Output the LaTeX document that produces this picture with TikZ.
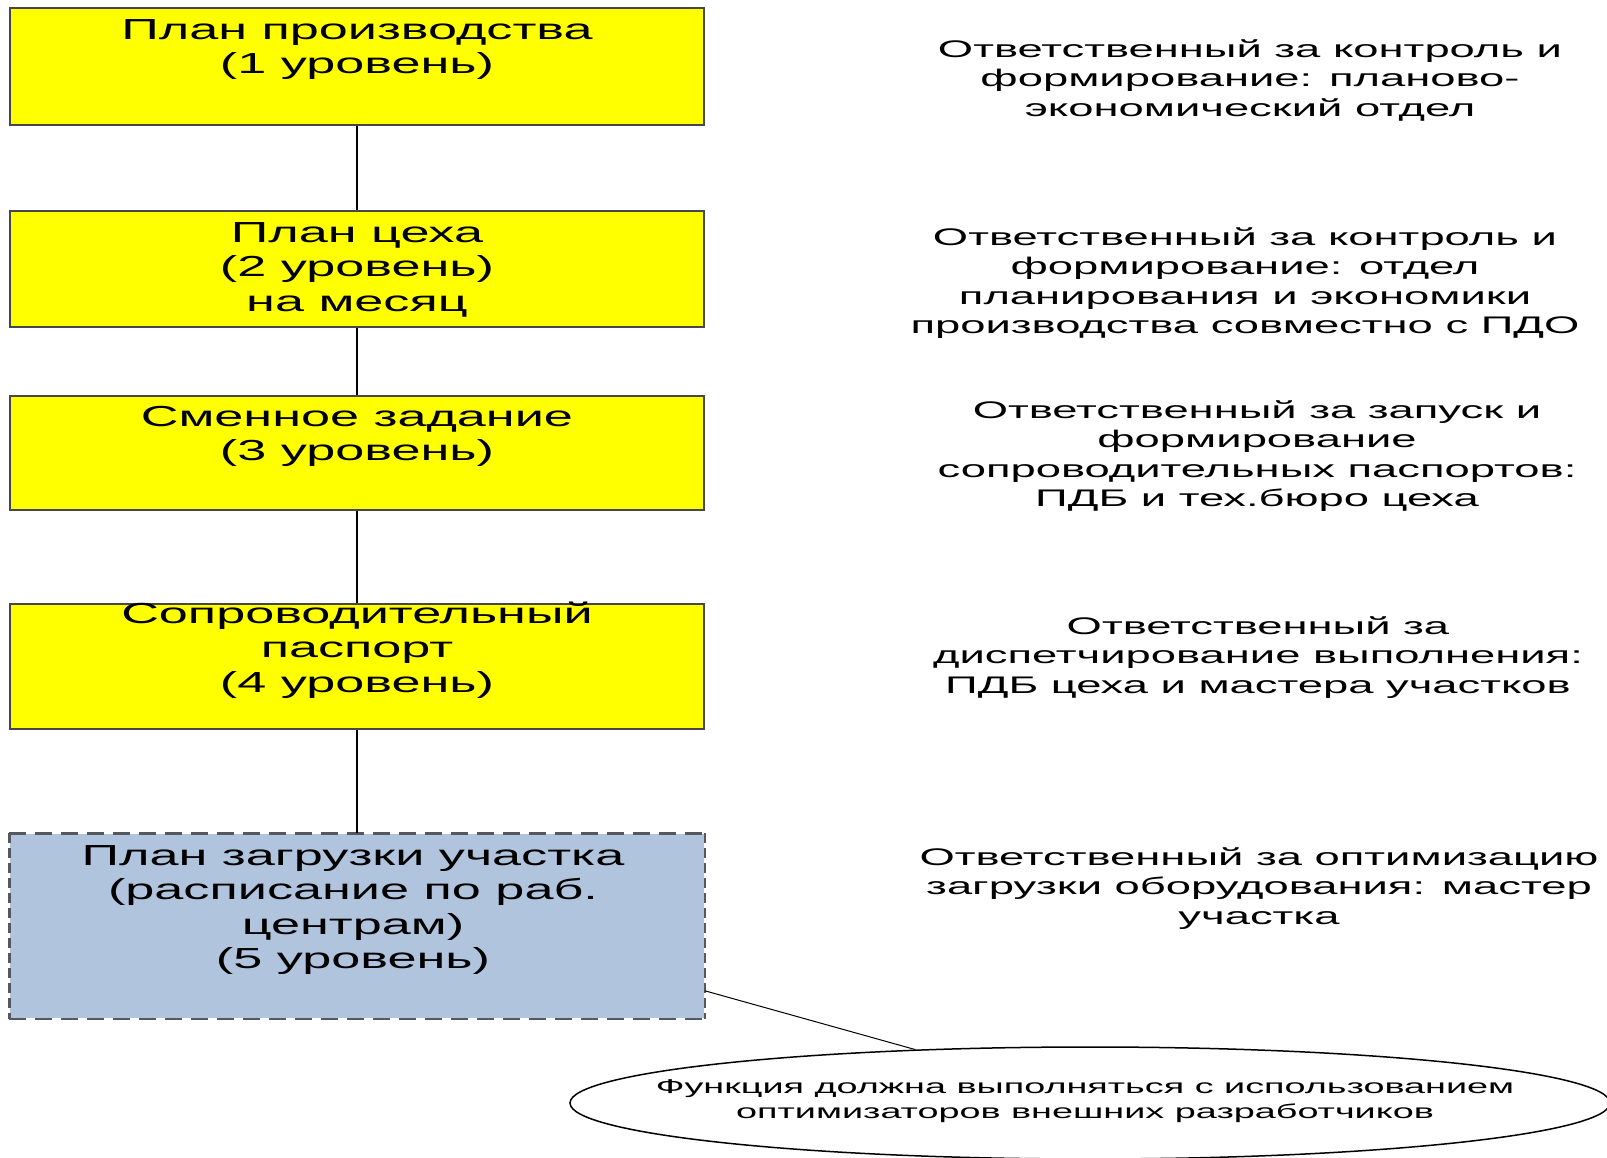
\documentclass[tikz,border=0pt]{standalone}
\usepackage{fontspec}
\setmainfont{Liberation Sans}[FakeStretch=1.8]
\newfontfamily\respfont{Liberation Sans}[FakeStretch=1.89]
\usepackage{tikz}
\usetikzlibrary{shapes}
\usetikzlibrary{positioning}
\usetikzlibrary{calc}
\usepackage{xcolor}
\definecolor{lvlyellow}{RGB}{255,255,0}
\definecolor{lvlblue}{RGB}{176,196,222}
\definecolor{rimgray}{RGB}{70,70,75}
\definecolor{dashgray}{RGB}{85,88,95}
\newcommand{\topline}{\rule{0pt}{1em}}
\tikzset{
  lvl/.style={draw=rimgray, line width=1.5pt, fill=lvlyellow, minimum width=694pt, inner sep=0pt},
  lvltext/.style={anchor=north, align=center, inner sep=0pt, font=\fontsize{29}{34.5}\selectfont},
  resp/.style={anchor=north, align=center, inner sep=0pt, font=\respfont\fontsize{24}{29.5}\selectfont},
  link/.style={line width=1.5pt},
  hdash/.style={draw=dashgray, line width=2.5pt, dash pattern=on 17pt off 9pt},
  vdash/.style={draw=dashgray, line width=2.5pt, dash pattern=on 10pt off 5pt}
}

\begin{document}
\begin{tikzpicture}[x=1pt,y=-1pt]
\useasboundingbox (0,0) rectangle (1607,1158);
\fill[white] (0,0) rectangle (1607,1158);
\node[lvl, minimum height=117pt] (b1) at (357,66.5) {};
\node[lvl, minimum height=116pt] (b2) at (357,269) {};
\node[lvl, minimum height=114pt] (b3) at (357,453) {};
\node[lvl, minimum height=125pt] (b4) at (357,666.5) {};
\node[lvl, minimum height=184pt, fill=lvlblue, draw=none] (b5) at (357,926) {};
\draw[hdash] (b5.north west)--(b5.north east);
\draw[hdash] (b5.south west)--(b5.south east);
\draw[vdash] (b5.north west)--(b5.south west);
\draw[vdash] (b5.north east)--(b5.south east);
\draw[link] (b1.south)--(b2.north);
\draw[link] (b2.south)--(b3.north);
\draw[link] (b3.south)--(b4.north);
\draw[link] (b4.south)--(b5.north);
\node[lvltext] (t1) at (357,10) {\topline План производства\\(1 уровень)};
\node[lvltext] (t2) at (357,213) {\topline План цеха\\(2 уровень)\\на месяц};
\node[lvltext] (t3) at (357,397) {\topline Сменное задание\\(3 уровень)};
\node[lvltext] (t4) at (357,594) {\topline Сопроводительный\\паспорт\\(4 уровень)};
\node[lvltext] (t5) at (353,836) {\topline План загрузки участка\\(расписание по раб.\\центрам)\\(5 уровень)};
\node[resp] (r1) at (1250,33) {\topline Ответственный за контроль и\\формирование: планово-\\экономический отдел};
\node[resp] (r2) at (1245,221) {\topline Ответственный за контроль и\\формирование: отдел\\планирования и экономики\\производства совместно с ПДО};
\node[resp] (r3) at (1257,394) {\topline Ответственный за запуск и\\формирование\\сопроводительных паспортов:\\ПДБ и тех.бюро цеха};
\node[resp] (r4) at (1258,610) {\topline Ответственный за\\диспетчирование выполнения:\\ПДБ цеха и мастера участков};
\node[resp] (r5) at (1259,841) {\topline Ответственный за оптимизацию\\загрузки оборудования: мастер\\участка};
\node[draw, ellipse, line width=1.5pt, minimum width=1040pt, minimum height=112pt, inner sep=0pt] (note) at (1090,1103) {};
\node[anchor=north, align=center, inner sep=0pt, font=\respfont\fontsize{20}{25}\selectfont] (nt) at (1085,1073) {\topline Функция должна выполняться с использованием\\оптимизаторов внешних разработчиков};
\coordinate (b5r) at ($(b5.south east)+(0,-28)$);
\draw[line width=1pt] (b5r)--(note.163.7);
\end{tikzpicture}
\end{document}
